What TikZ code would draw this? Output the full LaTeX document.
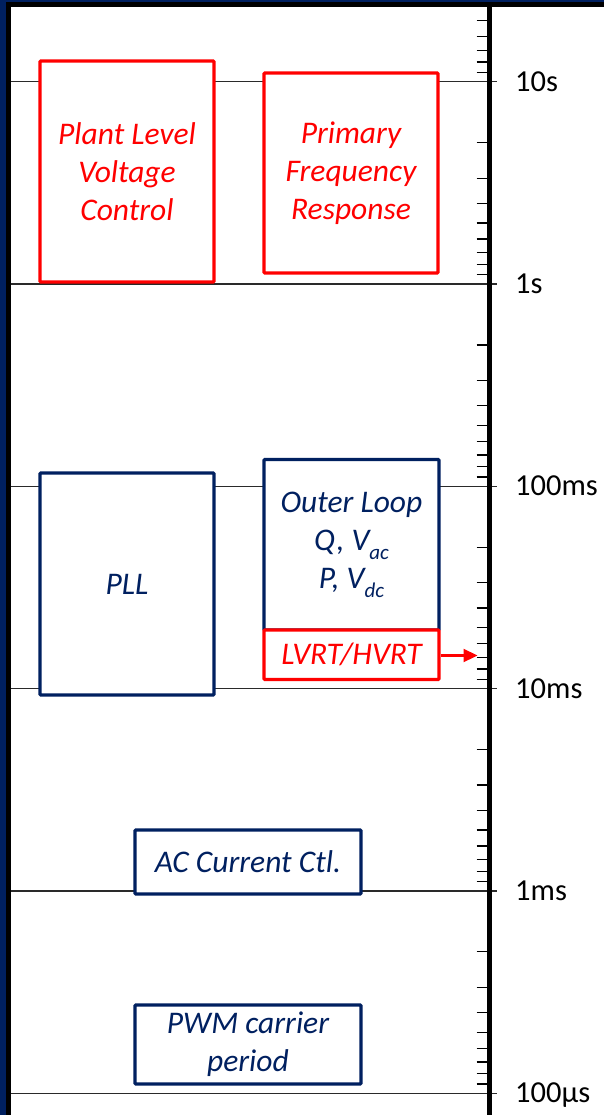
\documentclass[tikz,border=0pt]{standalone}
\usepackage{fontspec}
\setmainfont{Carlito}
\usetikzlibrary{arrows.meta}
\definecolor{navy}{HTML}{002060}
\definecolor{fred}{HTML}{FF0000}
\definecolor{gridc}{HTML}{2A2A2A}
\newcommand\lowsub[1]{\raisebox{-0.28em}{\fontsize{21}{21}\selectfont #1}}
\tikzset{
  x=1pt, y=-1pt,
  boxbase/.style={draw, fill=white, line width=3.3pt, rounded corners=1pt, inner sep=0pt,
    align=center, font=\fontsize{31.5}{38}\selectfont\itshape},
  redbox/.style={boxbase, draw=fred, text=fred},
  bluebox/.style={boxbase, draw=navy, text=navy},
  gridline/.style={draw=gridc, line width=1.3pt},
  tickline/.style={draw=black, line width=1.3pt},
  axisline/.style={draw=black, line width=4.5pt},
  scalelabel/.style={anchor=base west, inner sep=0pt, font=\fontsize{30.5}{36}\selectfont},
  redarrow/.style={draw=fred, line width=2.2pt, -{Triangle[length=14pt,width=13pt]}}
}
\begin{document}
\begin{tikzpicture}
\useasboundingbox (0,0) rectangle (604,1115);
\fill[white] (0,0) rectangle (604,1115);
% minor ticks
\foreach \i in {0,...,5} {
  \foreach \lg in {0.30103,0.47712,0.60206,0.69897,0.77815,0.84510,0.90309,0.95424} {
    \pgfmathsetmacro{\yy}{81.7-202.3+202.3*\i+202.3*\lg}
    \pgfmathparse{(\yy>9)&&(\yy<1110)?1:0}
    \ifnum\pgfmathresult=1
      \draw[tickline] (476.5,\yy) -- (489.5,\yy);
    \fi
  }
}
% grid lines and labels
\foreach \i/\lab in {0/10s,1/1s,2/100ms,3/10ms,4/1ms,5/100µs} {
  \pgfmathsetmacro{\yy}{81.7+202.3*\i}
  \draw[gridline] (10.5,\yy) -- (497,\yy);
  \node[scalelabel] (lab\i) at (515,\yy+9.5) {\lab};
}
% axis
\coordinate (axtop) at (489.5,5);
\coordinate (axbot) at (489.5,1115);
\draw[axisline] (axtop) -- (axbot);
% boxes
\node[redbox, minimum width=174pt, minimum height=221pt] (plant) at (127,171.5)
  {Plant Level\\Voltage\\Control};
\node[redbox, minimum width=174pt, minimum height=200pt] (pfr) at (351,173)
  {Primary\\Frequency\\Response};
\node[bluebox, minimum width=174pt, minimum height=222pt] (pll) at (127,584) {PLL};
\node[bluebox, minimum width=175pt, minimum height=170.5pt] (outer) at (351.5,544.75)
  {Outer Loop\\Q, V\lowsub{ac}\\P, V\lowsub{dc}};
\node[redbox, minimum width=175pt, minimum height=49.5pt] (lvrt) at (351.5,654.75)
  {LVRT/HVRT};
\node[bluebox, minimum width=226pt, minimum height=64pt] (ac) at (248,862)
  {AC Current Ctl.};
\node[bluebox, minimum width=226pt, minimum height=79pt] (pwm) at (248,1044.5)
  {PWM carrier\\period};
% arrow
\coordinate (arrtip) at (477.5,655.5);
\draw[redarrow] (lvrt.east |- arrtip) -- (arrtip);
% frame
\fill[navy] (0,0) rectangle (6,1115);
\fill[navy] (0,0) rectangle (604,2.5);
\fill[black] (6,2.5) rectangle (10.5,1115);
\fill[black] (6,2.5) rectangle (604,7.5);
\end{tikzpicture}
\end{document}
